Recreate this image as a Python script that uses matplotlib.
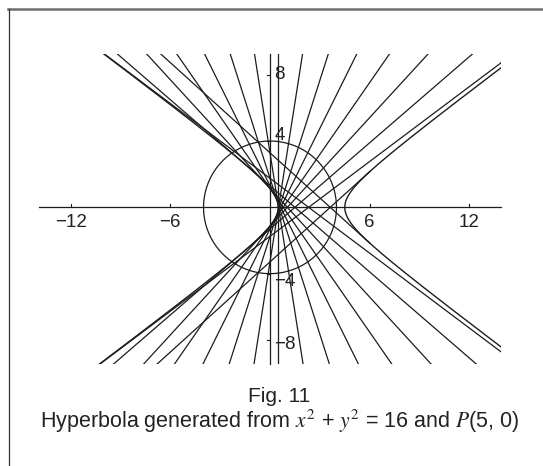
import numpy as np
import matplotlib
matplotlib.use('Agg')
import matplotlib.pyplot as plt
from matplotlib.lines import Line2D

plt.rcParams['font.family'] = ['Liberation Sans', 'DejaVu Sans']
plt.rcParams['mathtext.fontset'] = 'stix'

# ---- data ----
circle_radius = 4.0
point_p = [5.0, 0.0]
angles_deg = [20, 40, 60, 80, 100, 120, 140, 160, 180,
              200, 220, 240, 260, 280, 300, 320, 340]
x_ticks = [-12, -6, 6, 12]
x_tick_labels = ['\u221212', '\u22126', '6', '12']
y_ticks = [-8, -4, 4, 8]
y_tick_labels = ['\u22128', '\u22124', '4', '8']
y_label_pos = [-8.25, -4.45, 4.35, 8.0]
caption_title = 'Fig. 11'
caption_text = 'Hyperbola generated from $x^2$ + $y^2$ = 16 and $P$(5, 0)'

xlim = (-13.9, 13.9)
ylim = (-9.45, 9.25)
ink = '#1c1c1c'

fig = plt.figure(figsize=(5.43, 4.66), dpi=100)
ax = fig.add_axes([39 / 543, 102 / 466, 462 / 543, 310 / 466])
ax.set_xlim(*xlim)
ax.set_ylim(*ylim)
ax.axis('off')

# perpendicular bisectors of PQ, Q on the circle
px, py = point_p
R = circle_radius
for a in angles_deg:
    th = np.deg2rad(a)
    c, s = np.cos(th), np.sin(th)
    qx, qy = R * c, R * s
    mx, my = (px + qx) / 2, (py + qy) / 2
    dx, dy = -(qy - py), (qx - px)
    n = np.hypot(dx, dy)
    dx, dy = dx / n, dy / n
    if dx > 0:
        dx, dy = -dx, -dy  # d points toward negative x
    if 2 * (px * c - R) > 0:
        # tangent to the right branch: draw the ray from the tangent point
        r = (px ** 2 - R ** 2) / (2 * (px * c - R))
        tx, ty = r * c, r * s
        t = np.array([0.0, 60.0])
        ax.plot(tx + t * dx, ty + t * dy, color=ink, lw=0.9,
                solid_capstyle='butt')
    else:
        t = np.array([-60.0, 60.0])
        ax.plot(mx + t * dx, my + t * dy, color=ink, lw=0.9,
                solid_capstyle='butt')

# circle
phi = np.linspace(0, 2 * np.pi, 400)
ax.plot(R * np.cos(phi), R * np.sin(phi), color=ink, lw=0.9)

# hyperbola envelope (both branches)
hc = px / 2
ha = R / 2
hb = np.sqrt(hc ** 2 - ha ** 2)
u = np.linspace(-3.2, 3.2, 600)
ax.plot(hc + ha * np.cosh(u), hb * np.sinh(u), color=ink, lw=1.0)
ax.plot(hc - ha * np.cosh(u), hb * np.sinh(u), color=ink, lw=1.0)

# axes
ax.plot(list(xlim), [0, 0], color=ink, lw=0.9, clip_on=False)
ax.plot([0, 0], list(ylim), color=ink, lw=0.9, clip_on=False)
for xt, lab in zip(x_ticks, x_tick_labels):
    ax.plot([xt, xt], [0, 0.2], color=ink, lw=0.8)
    ax.text(xt, -0.4, lab, ha='center', va='top', fontsize=13.5, color='#222222')
for yt, yp, lab in zip(y_ticks, y_label_pos, y_tick_labels):
    ax.plot([-0.2, 0], [yt, yt], color=ink, lw=0.8)
    ax.text(0.25, yp, lab, ha='left', va='center', fontsize=13.5, color='#222222')

# captions
fig.text(279 / 543, 1 - 397 / 466, caption_title, ha='center', va='center',
         fontsize=15, color='#222222')
fig.text(279.5 / 543, 1 - 421 / 466, caption_text, ha='center', va='center',
         fontsize=15.5, color='#222222')

# partial frame
fig.add_artist(Line2D([8 / 543, 1], [1 - 8.5 / 466, 1 - 8.5 / 466],
                      transform=fig.transFigure, color='#6e6e6e', lw=1.8))
fig.add_artist(Line2D([8.5 / 543, 8.5 / 543], [0, 1 - 8.5 / 466],
                      transform=fig.transFigure, color='#333333', lw=0.9))

fig.savefig('out.png', dpi=100)
